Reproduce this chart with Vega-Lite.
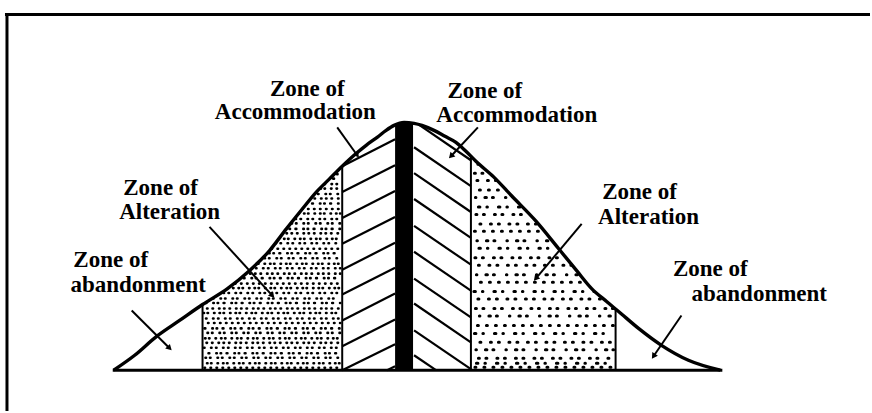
{
  "$schema": "https://vega.github.io/schema/vega-lite/v6.json",
  "width": 872,
  "height": 413,
  "autosize": {"type": "fit", "contains": "padding"},
  "padding": 0,
  "background": "white",
  "config": {"view": {"stroke": null}},
  "datasets": {
    "curve": [
      {"x": -291, "y": 0}, {"x": -270, "y": 15}, {"x": -248, "y": 34}, {"x": -225, "y": 50},
      {"x": -202, "y": 66}, {"x": -177, "y": 82}, {"x": -155, "y": 100}, {"x": -135, "y": 120},
      {"x": -118, "y": 142}, {"x": -102, "y": 162}, {"x": -88, "y": 179}, {"x": -75, "y": 192},
      {"x": -62, "y": 205}, {"x": -49, "y": 217}, {"x": -38, "y": 226}, {"x": -27, "y": 234},
      {"x": -18, "y": 241}, {"x": -10, "y": 246}, {"x": 0, "y": 249}, {"x": 10, "y": 248},
      {"x": 18, "y": 246}, {"x": 30, "y": 241}, {"x": 41, "y": 235}, {"x": 52, "y": 229},
      {"x": 62, "y": 220}, {"x": 72, "y": 210}, {"x": 90, "y": 194}, {"x": 108, "y": 175},
      {"x": 132, "y": 150}, {"x": 155, "y": 122}, {"x": 173, "y": 100}, {"x": 188, "y": 82},
      {"x": 203, "y": 69}, {"x": 215, "y": 59}, {"x": 235, "y": 42}, {"x": 258, "y": 25},
      {"x": 285, "y": 10}, {"x": 317, "y": 0}
    ],
    "dotsL": [
      {"y": 2.5, "x": -200, "x2": -64, "tex": "a"}, {"y": 7, "x": -197.5, "x2": -64, "tex": "h"},
      {"y": 12.5, "x": -199, "x2": -64, "tex": "b"}, {"y": 17, "x": -196, "x2": -64, "tex": "i"},
      {"y": 22.5, "x": -200.5, "x2": -64, "tex": "c"}, {"y": 27.5, "x": -198, "x2": -64, "tex": "d"},
      {"y": 32, "x": -199.5, "x2": -64, "tex": "h"}, {"y": 37.5, "x": -197, "x2": -64, "tex": "b"},
      {"y": 42, "x": -200, "x2": -64, "tex": "i"}, {"y": 47.5, "x": -196.5, "x2": -64, "tex": "a"},
      {"y": 52, "x": -198.5, "x2": -64, "tex": "c"}, {"y": 57.5, "x": -201, "x2": -64, "tex": "h"},
      {"y": 62, "x": -197.5, "x2": -64, "tex": "d"}, {"y": 67.5, "x": -199, "x2": -64, "tex": "i"},
      {"y": 72, "x": -196, "x2": -64, "tex": "b"}, {"y": 77.5, "x": -200, "x2": -64, "tex": "c"},
      {"y": 82.5, "x": -198, "x2": -64, "tex": "h"}, {"y": 87, "x": -199.5, "x2": -64, "tex": "a"},
      {"y": 92.5, "x": -197, "x2": -64, "tex": "i"}, {"y": 97, "x": -200.5, "x2": -64, "tex": "d"},
      {"y": 102.5, "x": -196.5, "x2": -64, "tex": "c"}, {"y": 107, "x": -198.5, "x2": -64, "tex": "h"},
      {"y": 112.5, "x": -200, "x2": -64, "tex": "b"}, {"y": 117.5, "x": -197.5, "x2": -64, "tex": "i"},
      {"y": 122, "x": -199, "x2": -64, "tex": "a"}, {"y": 127.5, "x": -196, "x2": -64, "tex": "c"},
      {"y": 132, "x": -200.5, "x2": -64, "tex": "h"}, {"y": 137.5, "x": -198, "x2": -64, "tex": "d"},
      {"y": 142, "x": -199.5, "x2": -64, "tex": "i"}, {"y": 147.5, "x": -197, "x2": -64, "tex": "b"},
      {"y": 152, "x": -200, "x2": -64, "tex": "c"}, {"y": 157.5, "x": -196.5, "x2": -64, "tex": "h"},
      {"y": 162, "x": -198.5, "x2": -64, "tex": "a"}, {"y": 167.5, "x": -201, "x2": -64, "tex": "i"},
      {"y": 172.5, "x": -197.5, "x2": -64, "tex": "d"}, {"y": 177, "x": -199, "x2": -64, "tex": "b"},
      {"y": 182.5, "x": -196, "x2": -64, "tex": "h"}, {"y": 187, "x": -200, "x2": -64, "tex": "c"},
      {"y": 192.5, "x": -198, "x2": -64, "tex": "i"}, {"y": 197, "x": -199.5, "x2": -64, "tex": "a"},
      {"y": 202.5, "x": -197, "x2": -64, "tex": "d"}, {"y": 207, "x": -200, "x2": -64, "tex": "h"}
    ],
    "dotsR": [
      {"y": 3, "x": 71, "x2": 210, "tex": "e"}, {"y": 7, "x": 72.5, "x2": 210, "tex": "j"},
      {"y": 12, "x": 74.5, "x2": 210, "tex": "f"}, {"y": 20.5, "x": 72, "x2": 210, "tex": "k"},
      {"y": 28, "x": 76, "x2": 210, "tex": "g"}, {"y": 37, "x": 70.5, "x2": 210, "tex": "j"},
      {"y": 45, "x": 73.5, "x2": 210, "tex": "e"}, {"y": 54.5, "x": 75.5, "x2": 210, "tex": "k"},
      {"y": 62, "x": 71.5, "x2": 210, "tex": "f"}, {"y": 71.5, "x": 74, "x2": 210, "tex": "g"},
      {"y": 79, "x": 70, "x2": 210, "tex": "j"}, {"y": 88.5, "x": 76.5, "x2": 210, "tex": "e"},
      {"y": 96, "x": 72.5, "x2": 210, "tex": "k"}, {"y": 105.5, "x": 74.5, "x2": 210, "tex": "g"},
      {"y": 113, "x": 71, "x2": 210, "tex": "f"}, {"y": 122.5, "x": 75, "x2": 210, "tex": "j"},
      {"y": 130, "x": 73, "x2": 210, "tex": "k"}, {"y": 139.5, "x": 70.5, "x2": 210, "tex": "e"},
      {"y": 147, "x": 76, "x2": 210, "tex": "g"}, {"y": 156.5, "x": 72, "x2": 210, "tex": "f"},
      {"y": 164, "x": 74.5, "x2": 210, "tex": "j"}, {"y": 173.5, "x": 71.5, "x2": 210, "tex": "k"},
      {"y": 181, "x": 75.5, "x2": 210, "tex": "e"}, {"y": 190.5, "x": 73, "x2": 210, "tex": "g"},
      {"y": 198, "x": 70.5, "x2": 210, "tex": "f"}, {"y": 207, "x": 74, "x2": 210, "tex": "j"}
    ],
    "hatch": [
      {"x": -62, "y": 231, "x2": -9, "y2": 258}, {"x": -62, "y": 205, "x2": -9, "y2": 232},
      {"x": -62, "y": 179, "x2": -9, "y2": 206}, {"x": -62, "y": 153, "x2": -9, "y2": 180},
      {"x": -62, "y": 127, "x2": -9, "y2": 154}, {"x": -62, "y": 101, "x2": -9, "y2": 128},
      {"x": -62, "y": 76, "x2": -9, "y2": 103}, {"x": -62, "y": 50, "x2": -9, "y2": 77},
      {"x": -62, "y": 24, "x2": -9, "y2": 51}, {"x": -62, "y": 0, "x2": -9, "y2": 26},
      {"x": -17, "y": 0, "x2": -9, "y2": 4},
      {"x": 10, "y": 250, "x2": 67, "y2": 211}, {"x": 10, "y": 224, "x2": 67, "y2": 185},
      {"x": 10, "y": 198, "x2": 67, "y2": 159}, {"x": 10, "y": 172, "x2": 67, "y2": 133},
      {"x": 10, "y": 145, "x2": 67, "y2": 106}, {"x": 10, "y": 119, "x2": 67, "y2": 80},
      {"x": 10, "y": 92, "x2": 67, "y2": 53}, {"x": 10, "y": 67, "x2": 67, "y2": 28},
      {"x": 10, "y": 40, "x2": 67, "y2": 1}, {"x": 10, "y": 15, "x2": 32, "y2": 0}
    ],
    "bar": [{"x": -9, "x2": 9, "y": 0, "y2": 252}],
    "dividers": [
      {"x": -202, "y": 0, "y2": 80}, {"x": -62, "y": 0, "y2": 215},
      {"x": 67, "y": 0, "y2": 225}, {"x": 212, "y": 0, "y2": 75}
    ],
    "baseline": [{"x": -292, "x2": 319, "y": 0}],
    "arrows": [
      {"x": -67, "y": 244, "x2": -47, "y2": 216, "heading": 144.5},
      {"x": 74, "y": 244, "x2": 47, "y2": 215, "heading": 223},
      {"x": -195, "y": 144, "x2": -132, "y2": 75, "heading": 137.6},
      {"x": 178, "y": 147, "x2": 132, "y2": 92, "heading": 220},
      {"x": -273, "y": 60, "x2": -235, "y2": 22, "heading": 135},
      {"x": 278, "y": 55, "x2": 250, "y2": 14, "heading": 214}
    ],
    "labels": [
      {"x": -97, "y": 276, "label": "Zone of"}, {"x": -109, "y": 252, "label": "Accommodation"},
      {"x": 81, "y": 274, "label": "Zone of"}, {"x": 113, "y": 249, "label": "Accommodation"},
      {"x": -244, "y": 176, "label": "Zone of"}, {"x": -235, "y": 152, "label": "Alteration"},
      {"x": 236, "y": 172, "label": "Zone of"}, {"x": 245, "y": 147, "label": "Alteration"},
      {"x": -294, "y": 104, "label": "Zone of"}, {"x": -266.5, "y": 79, "label": "abandonment"},
      {"x": 307, "y": 95, "label": "Zone of"}, {"x": 356, "y": 70, "label": "abandonment"}
    ],
    "frame": [
      {"x": -400, "y": 357.5, "x2": 467, "y2": 357.5},
      {"x": -398, "y": 359, "x2": -398, "y2": -41}
    ]
  },
  "encoding": {
    "x": {"field": "x", "type": "quantitative", "axis": null, "scale": {"domain": [-405, 467], "nice": false, "zero": false}},
    "y": {"field": "y", "type": "quantitative", "axis": null, "scale": {"domain": [-41, 372], "nice": false, "zero": false}}
  },
  "layer": [
    {
      "data": {"name": "dotsL"},
      "mark": {"type": "rule", "strokeWidth": 2.6, "strokeCap": "round", "color": "black"},
      "encoding": {
        "x2": {"field": "x2"},
        "strokeDash": {"field": "tex", "type": "nominal", "legend": null,
          "scale": {"domain": ["a", "b", "c", "d", "h", "i", "e", "f", "g", "j", "k"],
            "range": [[0.5, 5.5], [0.5, 4, 0.5, 7], [0.5, 6.5, 0.5, 4.5], [0.5, 5, 0.5, 6, 0.5, 4.5], [0.5, 3.5, 0.5, 6, 0.5, 5], [0.8, 7, 0.5, 3.8, 0.5, 5.5],
              [1, 8], [1, 6.5, 1, 10], [1, 9.5, 1, 7], [1.5, 7, 0.5, 11], [0.5, 9, 1.5, 6, 1, 12]]}}
      }
    },
    {
      "data": {"name": "dotsR"},
      "mark": {"type": "rule", "strokeWidth": 3, "strokeCap": "round", "color": "black"},
      "encoding": {
        "x2": {"field": "x2"},
        "strokeDash": {"field": "tex", "type": "nominal", "legend": null}
      }
    },
    {
      "data": {"name": "hatch"},
      "mark": {"type": "rule", "strokeWidth": 2.2, "color": "black"},
      "encoding": {"x2": {"field": "x2"}, "y2": {"field": "y2"}}
    },
    {
      "data": {"name": "bar"},
      "mark": {"type": "rect", "color": "black"},
      "encoding": {"x2": {"field": "x2"}, "y2": {"field": "y2"}}
    },
    {
      "data": {"name": "dividers"},
      "mark": {"type": "rule", "strokeWidth": 2, "color": "black"},
      "encoding": {"y2": {"field": "y2"}}
    },
    {
      "data": {"name": "curve"},
      "mark": {"type": "area", "color": "white", "interpolate": "monotone"},
      "encoding": {"y2": {"datum": 372}}
    },
    {
      "data": {"name": "curve"},
      "mark": {"type": "line", "color": "black", "strokeWidth": 3.4, "interpolate": "monotone"},
      "encoding": {}
    },
    {
      "data": {"name": "baseline"},
      "mark": {"type": "rule", "strokeWidth": 3, "color": "black"},
      "encoding": {"x2": {"field": "x2"}}
    },
    {
      "data": {"name": "arrows"},
      "mark": {"type": "rule", "strokeWidth": 2, "color": "black"},
      "encoding": {"x2": {"field": "x2"}, "y2": {"field": "y2"}}
    },
    {
      "data": {"name": "arrows"},
      "mark": {"type": "point", "shape": "triangle-up", "filled": true, "color": "black", "size": 45, "opacity": 1},
      "encoding": {
        "x": {"field": "x2", "type": "quantitative", "scale": {"domain": [-405, 467], "nice": false, "zero": false}},
        "y": {"field": "y2", "type": "quantitative", "scale": {"domain": [-41, 372], "nice": false, "zero": false}},
        "angle": {"field": "heading", "type": "quantitative", "scale": null}
      }
    },
    {
      "data": {"name": "labels"},
      "mark": {"type": "text", "font": "Liberation Serif", "fontWeight": "bold", "fontSize": 23, "align": "center", "baseline": "alphabetic", "color": "black"},
      "encoding": {"text": {"field": "label"}}
    },
    {
      "data": {"name": "frame"},
      "mark": {"type": "rule", "strokeWidth": 3, "color": "black"},
      "encoding": {"x2": {"field": "x2"}, "y2": {"field": "y2"}}
    }
  ]
}
